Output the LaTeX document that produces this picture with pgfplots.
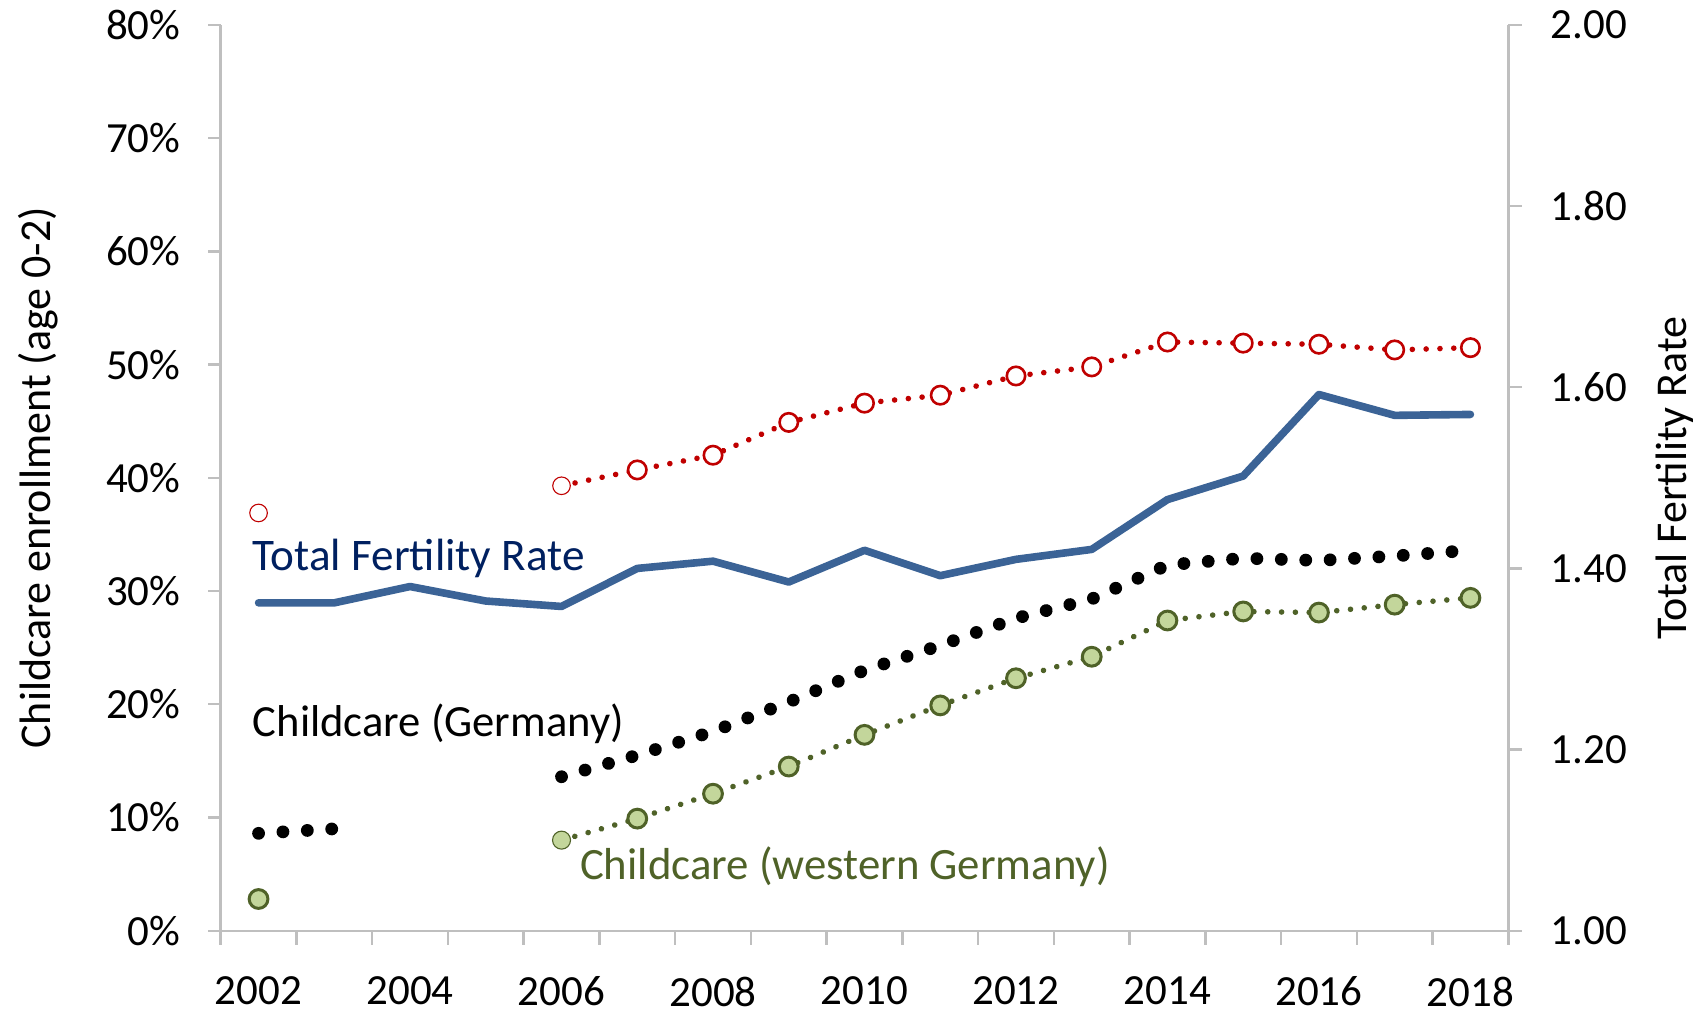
\documentclass[border=0pt]{standalone}
\usepackage{pgfplots}
\pgfplotsset{compat=1.18}
\usepackage{fontspec}
\setmainfont{Carlito}
\definecolor{tfrblue}{RGB}{59,99,150}
\definecolor{eastred}{RGB}{192,0,0}
\definecolor{westgreen}{RGB}{79,98,40}
\definecolor{westfill}{RGB}{195,214,155}
\definecolor{navytext}{RGB}{0,32,96}
\definecolor{axisgrey}{RGB}{191,191,191}
\pgfplotsset{
  myaxis/.style={
    at={(0pt,0pt)}, anchor=south west,
    scale only axis, width=643.8pt, height=452.85pt,
    xmin=2001.5, xmax=2018.5,
    axis line style={axisgrey, line width=1.2pt},
    every tick/.style={axisgrey, line width=1.2pt},
    tick align=outside,
    ticklabel style={font=\fontsize{21.5}{25}\selectfont, text=black},
    /pgf/number format/assume math mode=true,
    clip=false,
  }
}
\begin{document}
\begin{tikzpicture}
\path[use as bounding box] (-110.35pt,-38.65pt) rectangle (736.15pt,465.35pt);
\begin{axis}[myaxis,
  axis x line*=bottom, axis y line*=left,
  ymin=0, ymax=80, ytick={0,10,20,30,40,50,60,70,80},
  yticklabel={\pgfmathprintnumber{\tick}\%},
  yticklabel style={xshift=-10.4pt},
  xtick={2002,2004,2006,2008,2010,2012,2014,2016,2018},
  minor xtick={2001.5,2002.5,2003.5,2004.5,2005.5,2006.5,2007.5,2008.5,2009.5,2010.5,2011.5,2012.5,2013.5,2014.5,2015.5,2016.5,2017.5,2018.5},
  major x tick style={draw=none},
  minor tick length=7pt,
  major tick length=6.2pt,
  xticklabel style={/pgf/number format/1000 sep={}, yshift=-13.3pt},
  ylabel={Childcare enrollment (age 0-2)},
  ylabel style={font=\fontsize{22}{26}\selectfont, at={(axis description cs:-0.1577,0.5)}, anchor=north, inner sep=0pt},
]
% Childcare (Germany)
\addplot[black, line width=6.4pt, line cap=round, dash pattern=on 0.01pt off 12.2pt] coordinates {(2002,8.6)(2003,9.0)};
\addplot[black, line width=6.4pt, line cap=round, dash pattern=on 0.01pt off 12.2pt] coordinates {
(2006,13.6)(2007,15.5)(2008,17.6)(2009,20.2)(2010,23.0)(2011,25.2)(2012,27.6)(2013,29.3)(2014,32.3)(2015,32.9)(2016,32.7)(2017,33.1)(2018,33.6)};
% eastern Germany (red)
\addplot[eastred, line width=2.8pt, line cap=round, dash pattern=on 0.01pt off 6.9pt] coordinates {
(2006,39.3)(2007,40.7)(2008,42.0)(2009,44.9)(2010,46.6)(2011,47.3)(2012,49.0)(2013,49.8)(2014,52.0)(2015,51.9)(2016,51.8)(2017,51.3)(2018,51.5)};
\addplot[only marks, mark=*, mark size=4.6pt, mark options={draw=eastred, fill=white, line width=1.3pt}] coordinates {
(2007,40.7)(2008,42.0)(2009,44.9)(2010,46.6)(2011,47.3)(2012,49.0)(2013,49.8)(2014,52.0)(2015,51.9)(2016,51.8)(2017,51.3)(2018,51.5)};
\addplot[only marks, mark=*, mark size=4.4pt, mark options={draw=eastred, fill=white, line width=0.55pt}] coordinates {(2002,36.9)(2006,39.3)};
% western Germany (green)
\addplot[westgreen, line width=2.8pt, line cap=round, dash pattern=on 0.01pt off 6.9pt] coordinates {
(2006,8.0)(2007,9.9)(2008,12.1)(2009,14.5)(2010,17.3)(2011,19.9)(2012,22.3)(2013,24.2)(2014,27.4)(2015,28.2)(2016,28.1)(2017,28.8)(2018,29.4)};
\addplot[only marks, mark=*, mark size=4.7pt, mark options={draw=westgreen, fill=westfill, line width=1.5pt}] coordinates {
(2002,2.8)(2007,9.9)(2008,12.1)(2009,14.5)(2010,17.3)(2011,19.9)(2012,22.3)(2013,24.2)(2014,27.4)(2015,28.2)(2016,28.1)(2017,28.8)(2018,29.4)};
\addplot[only marks, mark=*, mark size=4.5pt, mark options={draw=westgreen, fill=westfill, line width=0.55pt}] coordinates {(2006,8.0)};
% labels
\node[anchor=base west, inner sep=0pt, text=navytext, font=\fontsize{22.6}{26}\selectfont] at (axis cs:2001.92,31.80) {Total Fertility Rate};
\node[anchor=base west, inner sep=0pt, text=black, font=\fontsize{22.3}{26}\selectfont] at (axis cs:2001.92,17.11) {Childcare (Germany)};
\node[anchor=base west, inner sep=0pt, text=westgreen, font=\fontsize{22.4}{26}\selectfont] at (axis cs:2006.24,4.48) {Childcare (western Germany)};
\end{axis}
\begin{axis}[myaxis,
  axis x line=none, axis y line*=right,
  ymin=1, ymax=2, ytick={1,1.2,1.4,1.6,1.8,2},
  yticklabel style={/pgf/number format/.cd, fixed, fixed zerofill, precision=2, /tikz/xshift=11pt},
  major tick length=6.6pt,
  ylabel={Total Fertility Rate},
  ylabel style={font=\fontsize{22}{26}\selectfont, at={(axis description cs:1.1142,0.5)}, anchor=north, inner sep=0pt},
]
\addplot[tfrblue, line width=3.8pt, line join=round, line cap=round] coordinates {
(2002,1.362)(2003,1.362)(2004,1.380)(2005,1.364)(2006,1.358)(2007,1.400)(2008,1.408)(2009,1.385)(2010,1.420)(2011,1.392)(2012,1.410)(2013,1.421)(2014,1.476)(2015,1.502)(2016,1.592)(2017,1.569)(2018,1.570)};
\end{axis}
\end{tikzpicture}
\end{document}
